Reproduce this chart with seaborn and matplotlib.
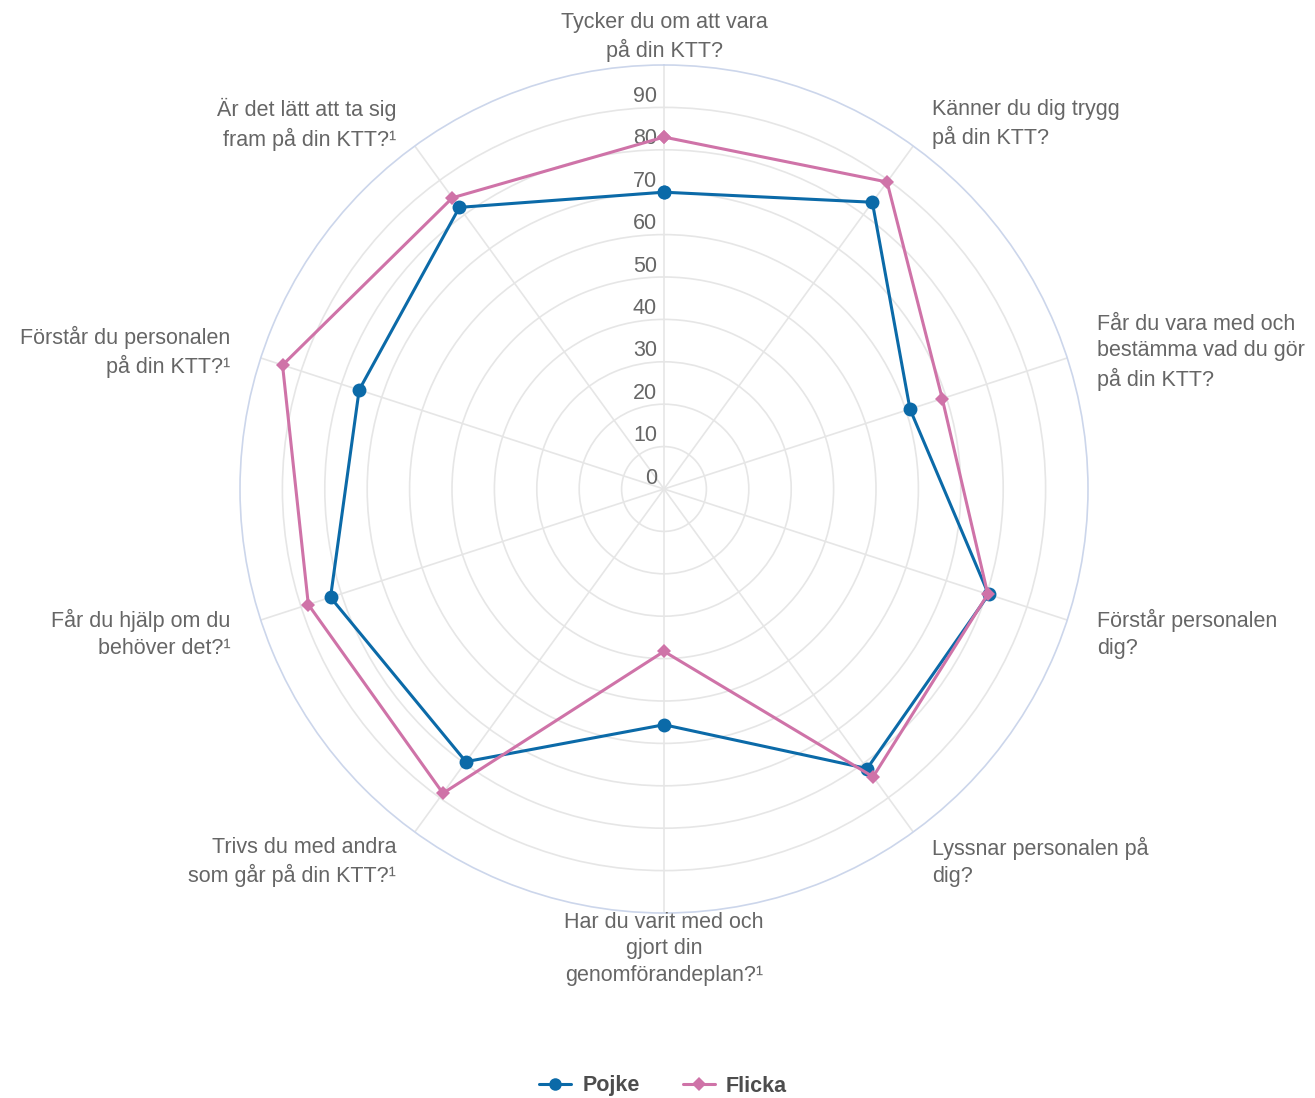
import numpy as np
import pandas as pd
import matplotlib
matplotlib.use("Agg")
import matplotlib.pyplot as plt
from matplotlib.lines import Line2D
import seaborn as sns

# --- data ---
categories = [
    "Tycker du om att vara\npå din KTT?",
    "Känner du dig trygg\npå din KTT?",
    "Får du vara med och\nbestämma vad du gör\npå din KTT?",
    "Förstår personalen\ndig?",
    "Lyssnar personalen på\ndig?",
    "Har du varit med och\ngjort din\ngenomförandeplan?¹",
    "Trivs du med andra\nsom går på din KTT?¹",
    "Får du hjälp om du\nbehöver det?¹",
    "Förstår du personalen\npå din KTT?¹",
    "Är det lätt att ta sig\nfram på din KTT?¹",
]
pojke = [70, 83.6, 61, 80.5, 81.5, 55.6, 79.5, 82.7, 75.6, 82.1]
flicka = [83, 89.5, 69, 80.3, 83.9, 38.3, 88.7, 88.2, 94.6, 84.9]
series_names = ["Pojke", "Flicka"]
r_ticks = [0, 10, 20, 30, 40, 50, 60, 70, 80, 90]

colors = {"Pojke": "#0b6aa8", "Flicka": "#cf73a8"}
markers = {"Pojke": "o", "Flicka": "D"}

n = len(categories)
theta = np.linspace(0, 2 * np.pi, n, endpoint=False)

# long table; first point repeated at 2*pi to close the polygon
rows = []
for name, vals in zip(series_names, [pojke, flicka]):
    for i in range(n):
        rows.append({"theta": theta[i], "value": vals[i], "serie": name})
    rows.append({"theta": 2 * np.pi, "value": vals[0], "serie": name})
df = pd.DataFrame(rows)

sns.set_theme(style="white")
plt.rcParams["font.family"] = ["Liberation Sans", "DejaVu Sans"]

FS = 15.5

fig = plt.figure(figsize=(13.15, 10.98), dpi=100)
cx, cy, R = 664, 1098 - 489, 424
ax = fig.add_axes([(cx - R) / 1315, (cy - R) / 1098, 2 * R / 1315, 2 * R / 1098],
                  projection="polar")
ax.set_theta_zero_location("N")
ax.set_theta_direction(-1)
ax.set_ylim(0, 100)

sns.lineplot(data=df, x="theta", y="value", hue="serie", style="serie",
             markers=markers, dashes=False, sort=False, estimator=None,
             palette=colors, linewidth=2.2, markersize=10,
             markeredgewidth=0, ax=ax, legend=False)
# diamond a bit smaller than the circle
for line in ax.get_lines():
    if line.get_marker() == "D":
        line.set_markersize(7.5)

# grid
ax.set_xticks(theta)
ax.set_xticklabels([])
ax.set_yticks(r_ticks[1:])
ax.set_yticklabels([])
ax.xaxis.grid(True, color="#e6e6e6", linewidth=1.2)
ax.yaxis.grid(True, color="#e6e6e6", linewidth=1.2)
ax.spines["polar"].set_color("#ccd6eb")
ax.spines["polar"].set_linewidth(1.2)
ax.set_xlabel("")
ax.set_ylabel("")
ax.tick_params(length=0)

# radial tick labels
for r in r_ticks:
    ax.annotate(str(r), xy=(0, r), xytext=(-7, 11), textcoords="offset pixels",
                ha="right", va="center", fontsize=FS, color="#666666", zorder=1)

# category labels
for ang, lab in zip(theta, categories):
    s = np.sin(ang)
    if abs(s) < 0.01:
        ha = "center"
    elif s > 0:
        ha = "left"
    else:
        ha = "right"
    ax.annotate(lab, xy=(ang, 107.5), xytext=(0, -4), textcoords="offset pixels",
                ha=ha, va="center", fontsize=FS, color="#666666",
                linespacing=1.35, annotation_clip=False, multialignment=ha)

# legend
handles = [Line2D([0], [0], color=colors[s], marker=markers[s], lw=2.2,
                  markersize=9 if s == "Pojke" else 7, markeredgewidth=0)
           for s in series_names]
fig.legend(handles, series_names, loc="center", bbox_to_anchor=(663 / 1315, 1 - 1086 / 1098),
           ncol=2, frameon=False, prop={"size": FS, "weight": "bold"}, labelcolor="#4d4d4d",
           handlelength=1.5, handletextpad=0.5, columnspacing=2.0)

fig.savefig("out.png", dpi=100)
